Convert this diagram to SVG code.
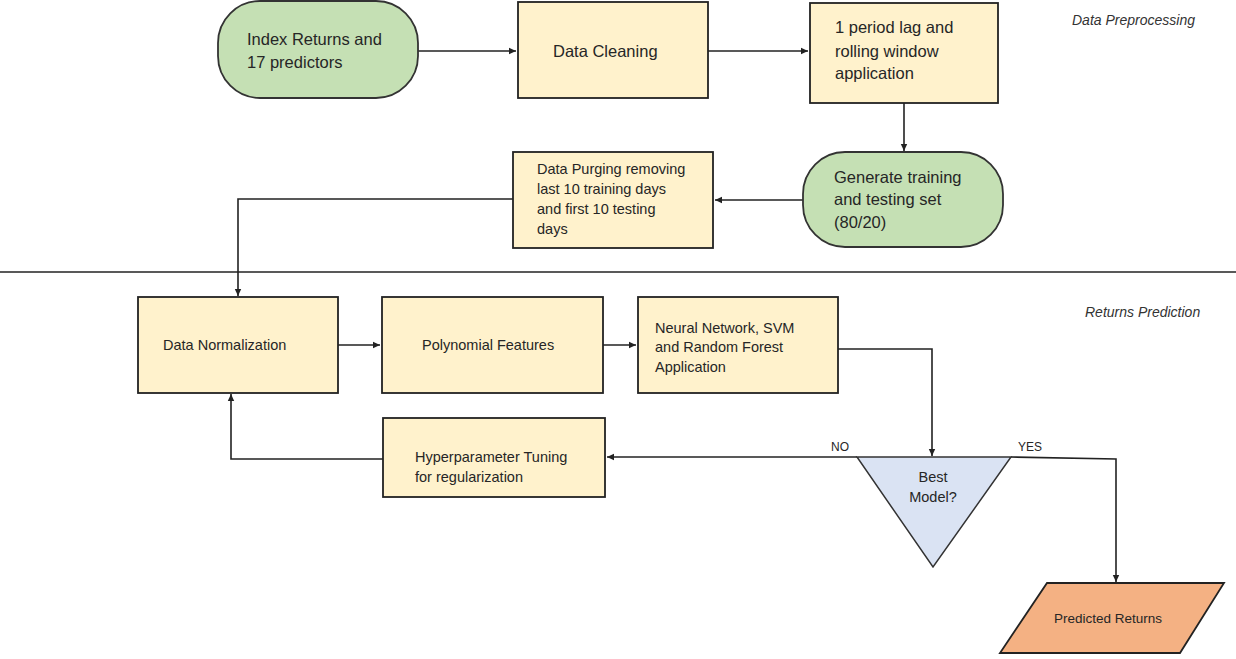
<svg xmlns="http://www.w3.org/2000/svg" width="1236" height="659" viewBox="0 0 1236 659">
<style>
.box{fill:#fff2cc;stroke:#222;stroke-width:1.8}
.start{fill:#c5e0b4;stroke:#333;stroke-width:1.8}
.dec{fill:#dae3f3;stroke:#333;stroke-width:1.5}
.out{fill:#f4b183;stroke:#222;stroke-width:1.8}
.t{font-family:"Liberation Sans",Arial,sans-serif;fill:#262626}
.big{font-size:16.5px}
.sm{font-size:14.5px}
.lbl{font-size:12px}
.sec{font-family:"Liberation Sans",Arial,sans-serif;font-size:14px;font-style:italic;fill:#333}
.c{fill:none;stroke:#222;stroke-width:1.6}
</style>
<defs>
<marker id="ah" markerWidth="8" markerHeight="8" refX="7" refY="4" orient="auto" markerUnits="userSpaceOnUse">
<path d="M0,0.8 L7,4 L0,7.2 z" fill="#222"/>
</marker>
</defs>
<rect width="1236" height="659" fill="#fff"/>
<line x1="0" y1="272" x2="1236" y2="272" stroke="#222" stroke-width="1.4"/>
<text class="sec" x="1072" y="25">Data Preprocessing</text>
<text class="sec" x="1085" y="317">Returns Prediction</text>
<g id="connectors">
<path class="c" d="M418,51 H516" marker-end="url(#ah)"/>
<path class="c" d="M708,51 H808" marker-end="url(#ah)"/>
<path class="c" d="M904,103 V151" marker-end="url(#ah)"/>
<path class="c" d="M803,200 H715" marker-end="url(#ah)"/>
<path class="c" d="M513,199 H238 V296" marker-end="url(#ah)"/>
<path class="c" d="M338,345 H380" marker-end="url(#ah)"/>
<path class="c" d="M603,345 H636" marker-end="url(#ah)"/>
<path class="c" d="M838,349 H932 V456" marker-end="url(#ah)"/>
<path class="c" d="M857,457 H607" marker-end="url(#ah)"/>
<path class="c" d="M383,459 H231 V394" marker-end="url(#ah)"/>
<path class="c" d="M1011,457 L1116,459 V582" marker-end="url(#ah)"/>
<text class="t lbl" x="831" y="451">NO</text>
<text class="t lbl" x="1018" y="451">YES</text>
</g>
<g id="n-index">
<rect class="start" x="218" y="1" width="200" height="97" rx="42" ry="42"/>
<text class="t big" x="247" y="45">Index Returns and</text>
<text class="t big" x="247" y="68">17 predictors</text>
</g>
<g id="n-cleaning">
<rect class="box" x="518" y="2" width="190" height="96"/>
<text class="t big" x="553" y="57">Data Cleaning</text>
</g>
<g id="n-lag">
<rect class="box" x="810" y="3" width="188" height="100"/>
<text class="t big" x="835" y="33">1 period lag and</text>
<text class="t big" x="835" y="57">rolling window</text>
<text class="t big" x="835" y="79">application</text>
</g>
<g id="n-generate">
<rect class="start" x="803" y="152" width="200" height="95" rx="42" ry="42"/>
<text class="t big" x="834" y="183">Generate training</text>
<text class="t big" x="834" y="205">and testing set</text>
<text class="t big" x="834" y="228">(80/20)</text>
</g>
<g id="n-purging">
<rect class="box" x="513" y="152" width="200" height="96"/>
<text class="t sm" x="537" y="174">Data Purging removing</text>
<text class="t sm" x="537" y="194">last 10 training days</text>
<text class="t sm" x="537" y="214">and first 10 testing</text>
<text class="t sm" x="537" y="234">days</text>
</g>
<g id="n-normalization">
<rect class="box" x="138" y="297" width="200" height="96"/>
<text class="t sm" x="163" y="350">Data Normalization</text>
</g>
<g id="n-polynomial">
<rect class="box" x="382" y="297" width="221" height="96"/>
<text class="t sm" x="422" y="350">Polynomial Features</text>
</g>
<g id="n-models">
<rect class="box" x="638" y="297" width="200" height="96"/>
<text class="t sm" x="655" y="333">Neural Network, SVM</text>
<text class="t sm" x="655" y="352">and Random Forest</text>
<text class="t sm" x="655" y="372">Application</text>
</g>
<g id="n-hyper">
<rect class="box" x="383" y="418" width="222" height="79"/>
<text class="t sm" x="415" y="462">Hyperparameter Tuning</text>
<text class="t sm" x="415" y="482">for regularization</text>
</g>
<g id="n-best">
<polygon class="dec" points="857,457 1011,457 933,567"/>
<text class="t sm" x="933" y="482" text-anchor="middle">Best</text>
<text class="t sm" x="933" y="502" text-anchor="middle">Model?</text>
</g>
<g id="n-predicted">
<polygon class="out" points="1047,583 1224,583 1180,653 1000,653"/>
<text class="t" x="1108" y="623" text-anchor="middle" font-size="13.5">Predicted Returns</text>
</g>
</svg>
